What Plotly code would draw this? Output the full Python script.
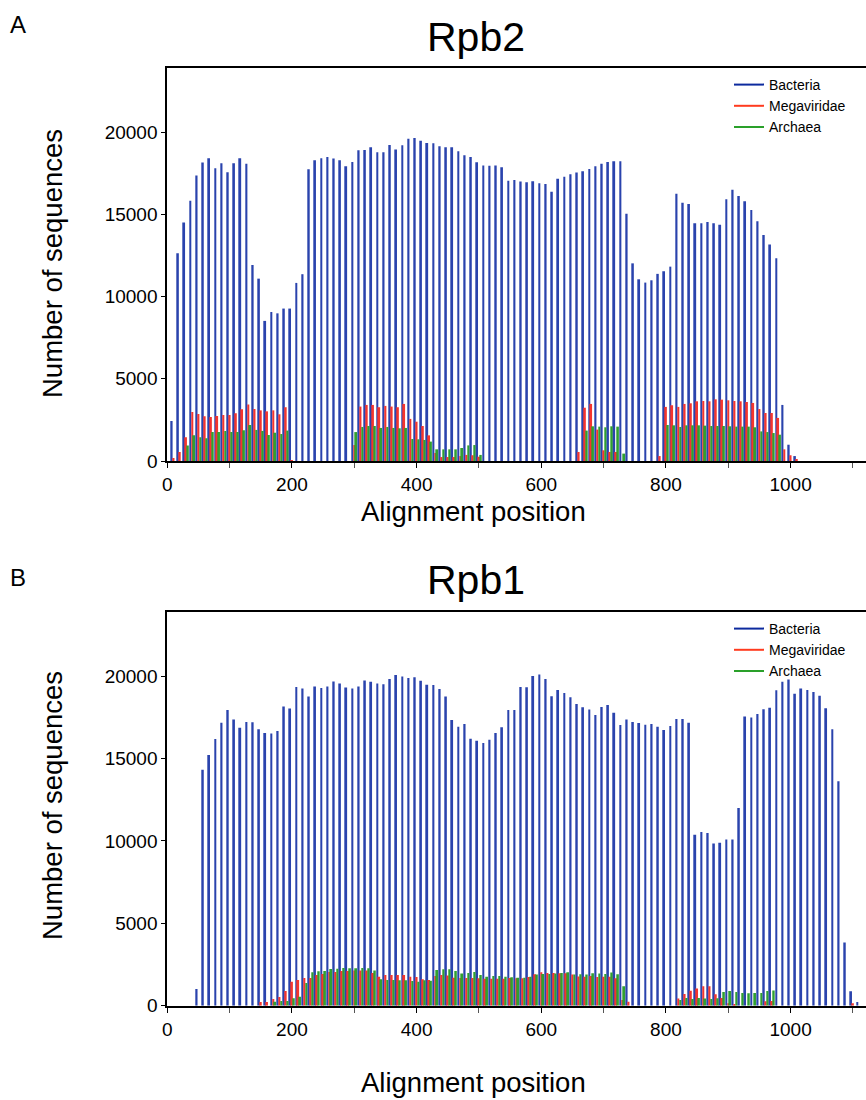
import plotly.graph_objects as go

# Alignment position bins (centre of each 10-residue bin)
positions = list(range(10, 1120, 10))

# ---------------- Rpb2 (panel A) ----------------
rpb2_bacteria = [
    2430, 12630, 14500, 15820, 17360, 18150, 18410, 17800, 18110, 17560,   # 10-100
    18110, 18410, 18070, 11920, 11090, 8520, 9060, 8980, 9270, 9270,       # 110-200
    10830, 11360, 17740, 18290, 18410, 18490, 18390, 18290, 17930, 18190,  # 210-300
    18900, 18920, 19080, 18780, 18780, 19220, 18940, 19200, 19590, 19650,  # 310-400
    19470, 19340, 19320, 19140, 19080, 19080, 18840, 18590, 18490, 18170,  # 410-500
    17970, 17950, 17970, 17860, 17050, 17090, 16990, 16950, 17010, 16890,  # 510-600
    16850, 16380, 17170, 17280, 17440, 17540, 17620, 17760, 17930, 18070,  # 610-700
    18190, 18230, 18230, 15030, 12020, 11050, 10850, 10990, 11380, 11540,  # 710-800
    11820, 16260, 15700, 15630, 14460, 14460, 14540, 14460, 14360, 15920,  # 810-900
    16490, 16120, 15800, 15270, 14580, 13750, 13160, 12330, 3410, 990,     # 910-1000
    300, 0, 0, 0, 0, 0, 0, 0, 0, 0, 0,                                     # 1010-1110
]
rpb2_megaviridae = [
    180, 550, 1440, 2980, 2860, 2720, 2680, 2740, 2800, 2800,
    2900, 3140, 3430, 3160, 3080, 3020, 3080, 2840, 3270, 40,
    0, 0, 0, 0, 0, 0, 0, 0, 0, 970,
    3310, 3410, 3410, 3270, 3350, 3310, 3270, 3470, 2560, 2390,
    2130, 1560, 490, 240, 240, 240, 300, 370, 350, 260,
    0, 0, 0, 0, 0, 0, 0, 0, 0, 0,
    0, 0, 0, 0, 0, 550, 3240, 3470, 1910, 650,
    550, 550, 0, 0, 0, 0, 0, 0, 300, 3290,
    3390, 3290, 3470, 3510, 3630, 3650, 3630, 3750, 3730, 3690,
    3650, 3630, 3590, 3530, 3160, 2920, 2920, 2620, 710, 350,
    120, 0, 0, 0, 0, 0, 0, 0, 0, 0, 0,
]
rpb2_archaea = [
    0, 0, 950, 1560, 1440, 1380, 1760, 1760, 1830, 1760,
    1760, 1870, 2190, 1890, 1830, 1580, 1720, 1640, 1850, 0,
    0, 0, 0, 0, 0, 0, 0, 0, 0, 1760,
    2070, 2130, 2130, 2010, 2070, 2010, 1990, 2010, 1340, 1320,
    1280, 1180, 710, 710, 710, 710, 790, 950, 970, 370,
    0, 0, 0, 0, 0, 0, 0, 0, 0, 0,
    0, 0, 0, 0, 0, 0, 1850, 2110, 2090, 2050,
    2110, 2090, 450, 0, 0, 0, 0, 0, 0, 2190,
    2170, 2070, 2170, 2170, 2170, 2150, 2130, 2130, 2130, 2110,
    2090, 2090, 2090, 2050, 1800, 1760, 1700, 1600, 0, 0,
    0, 0, 0, 0, 0, 0, 0, 0, 0, 0, 0,
]

# ---------------- Rpb1 (panel B) ----------------
rpb1_bacteria = [
    0, 0, 0, 0, 1010, 14330, 15220, 16190, 17180, 17950,
    17370, 16880, 17220, 17200, 16780, 16560, 16520, 16680, 18160, 18040,
    19350, 19250, 18770, 19370, 19290, 19370, 19680, 19560, 19310, 19250,
    19370, 19740, 19660, 19560, 19510, 19840, 20080, 19980, 19900, 19940,
    19720, 19490, 19470, 19230, 18770, 17350, 16940, 17100, 16210, 16090,
    15950, 16150, 16560, 16900, 17950, 17950, 19350, 19330, 20020, 20100,
    19840, 18790, 19170, 18990, 18720, 18320, 18120, 17980, 17650, 18140,
    18260, 17790, 17040, 17370, 17220, 17160, 17060, 17100, 16940, 16740,
    16980, 17410, 17410, 17180, 10380, 10540, 10480, 9850, 9890, 10090,
    10090, 12000, 17550, 17490, 17710, 17990, 18080, 19150, 19660, 19800,
    18930, 19250, 19170, 19050, 18810, 18060, 16780, 13620, 3830, 880, 230,
]
rpb1_megaviridae = [
    0, 0, 0, 0, 0, 0, 0, 0, 0, 0,
    0, 0, 0, 0, 230, 230, 410, 530, 890, 1460,
    1560, 1680, 1680, 1870, 1930, 2050, 2050, 2110, 2110, 2130,
    2130, 2130, 1990, 1760, 1870, 1870, 1870, 1870, 1760, 1740,
    1610, 1560, 1800, 1870, 1830, 1700, 1680, 1680, 1680, 1660,
    1640, 1640, 1640, 1640, 1680, 1660, 1660, 1740, 1910, 2030,
    1990, 1990, 1970, 1970, 1890, 1780, 1760, 1800, 1740, 1760,
    1760, 1660, 350, 240, 0, 0, 0, 0, 0, 0,
    0, 430, 710, 910, 1050, 1180, 1180, 690, 470, 150,
    100, 0, 0, 0, 0, 270, 280, 0, 0, 0,
    0, 0, 0, 0, 0, 0, 0, 0, 0, 150, 0,
]
rpb1_archaea = [
    0, 0, 0, 0, 0, 0, 0, 0, 0, 0,
    0, 0, 0, 0, 0, 0, 240, 280, 280, 450,
    550, 1380, 2030, 2090, 2110, 2230, 2250, 2290, 2270, 2270,
    2290, 2270, 2130, 1610, 1560, 1560, 1540, 1540, 1500, 1460,
    1540, 1520, 2170, 2210, 2210, 2110, 1950, 1990, 2050, 1870,
    1760, 1800, 1800, 1760, 1720, 1700, 1700, 1760, 1890, 1930,
    1930, 1950, 1990, 2030, 1890, 1910, 1890, 1970, 1950, 1930,
    2010, 1910, 1180, 0, 0, 0, 0, 0, 0, 0,
    0, 350, 470, 410, 470, 430, 410, 450, 830, 890,
    830, 770, 750, 770, 770, 890, 930, 0, 0, 0,
    0, 0, 0, 0, 0, 0, 0, 0, 0, 0, 0,
]

series_names = ["Bacteria", "Megaviridae", "Archaea"]
bar_colors = ["#2a43ad", "#f5352d", "#30a030"]
legend_colors = ["#0d2a9e", "#ff3b1f", "#2aa02a"]

x_ticks = [0, 200, 400, 600, 800, 1000]
y_ticks = [0, 5000, 10000, 15000, 20000]

FONT = "Liberation Sans, Arial, Helvetica, sans-serif"

fig = go.Figure()

panels = [
    ("x", "y", "legend", [rpb2_bacteria, rpb2_megaviridae, rpb2_archaea]),
    ("x2", "y2", "legend2", [rpb1_bacteria, rpb1_megaviridae, rpb1_archaea]),
]

for xa, ya, leg, data in panels:
    for name, col, vals in zip(series_names, bar_colors, data):
        fig.add_trace(go.Bar(
            x=positions, y=vals, name=name, xaxis=xa, yaxis=ya,
            marker=dict(color=col, line=dict(width=0)),
            showlegend=False, offsetgroup=name,
        ))
    for name, col in zip(series_names, legend_colors):
        fig.add_trace(go.Scatter(
            x=[None], y=[None], mode="lines", name=name,
            line=dict(color=col, width=2), xaxis=xa, yaxis=ya,
            legend=leg, showlegend=True,
        ))

W, H = 866, 1100
x0 = 167.3 / W

axis_common_x = dict(
    range=[0, 1121], tickvals=x_ticks, ticks="outside", ticklen=5, tickwidth=1.2,
    tickcolor="black", showline=True, linecolor="black", linewidth=2, mirror=True,
    showgrid=False, zeroline=False, automargin=False,
    tickfont=dict(size=19, color="black", family=FONT),
    minor=dict(dtick=100, tick0=0, ticks="outside", ticklen=5, tickwidth=1, tickcolor="#555"),
)
axis_common_y = dict(
    range=[0, 23900], tickvals=y_ticks, tickformat="d", ticks="outside", ticklen=4,
    tickwidth=1.2, tickcolor="black", showline=True, linecolor="black", linewidth=2,
    showgrid=False, zeroline=False, automargin=False,
    tickfont=dict(size=19, color="black", family=FONT),
)

def py(px):
    return 1 - px / H

legend_common = dict(xanchor="left", yanchor="top", bgcolor="rgba(0,0,0,0)",
                     borderwidth=0, font=dict(size=14, family=FONT, color="black"),
                     tracegroupgap=0)

fig.update_layout(
    template="none",
    width=W, height=H, autosize=False,
    margin=dict(l=0, r=0, t=0, b=0, pad=0, autoexpand=False),
    paper_bgcolor="white", plot_bgcolor="white",
    barmode="group", bargap=0.1, bargroupgap=0.0,
    font=dict(family=FONT, color="black"),
    xaxis=dict(domain=[x0, 1.0], anchor="y", **axis_common_x),
    yaxis=dict(domain=[py(461), py(68)], anchor="x", **axis_common_y),
    xaxis2=dict(domain=[x0, 1.0], anchor="y2", **axis_common_x),
    yaxis2=dict(domain=[py(1005.7), py(612)], anchor="x2", **axis_common_y),
    legend=dict(x=729 / W, y=py(69), **legend_common),
    legend2=dict(x=729 / W, y=py(613), **legend_common),
    showlegend=True,
)

annos = [
    dict(text="A", x=18 / W, y=py(25), font=dict(size=24)),
    dict(text="B", x=18 / W, y=py(577), font=dict(size=24)),
    dict(text="Rpb2", x=476 / W, y=py(37), font=dict(size=41)),
    dict(text="Rpb1", x=476 / W, y=py(580), font=dict(size=41)),
    dict(text="Number of sequences", x=52 / W, y=py(264), font=dict(size=27.5), textangle=-90),
    dict(text="Number of sequences", x=52 / W, y=py(806), font=dict(size=27.5), textangle=-90),
    dict(text="Alignment position", x=473 / W, y=py(511), font=dict(size=27.5)),
    dict(text="Alignment position", x=473 / W, y=py(1082), font=dict(size=27.5)),
]
for a in annos:
    f = dict(family=FONT, color="black")
    f.update(a.pop("font"))
    fig.add_annotation(xref="paper", yref="paper", xanchor="center", yanchor="middle",
                       showarrow=False, font=f, **a)

fig.write_html("out.html")
